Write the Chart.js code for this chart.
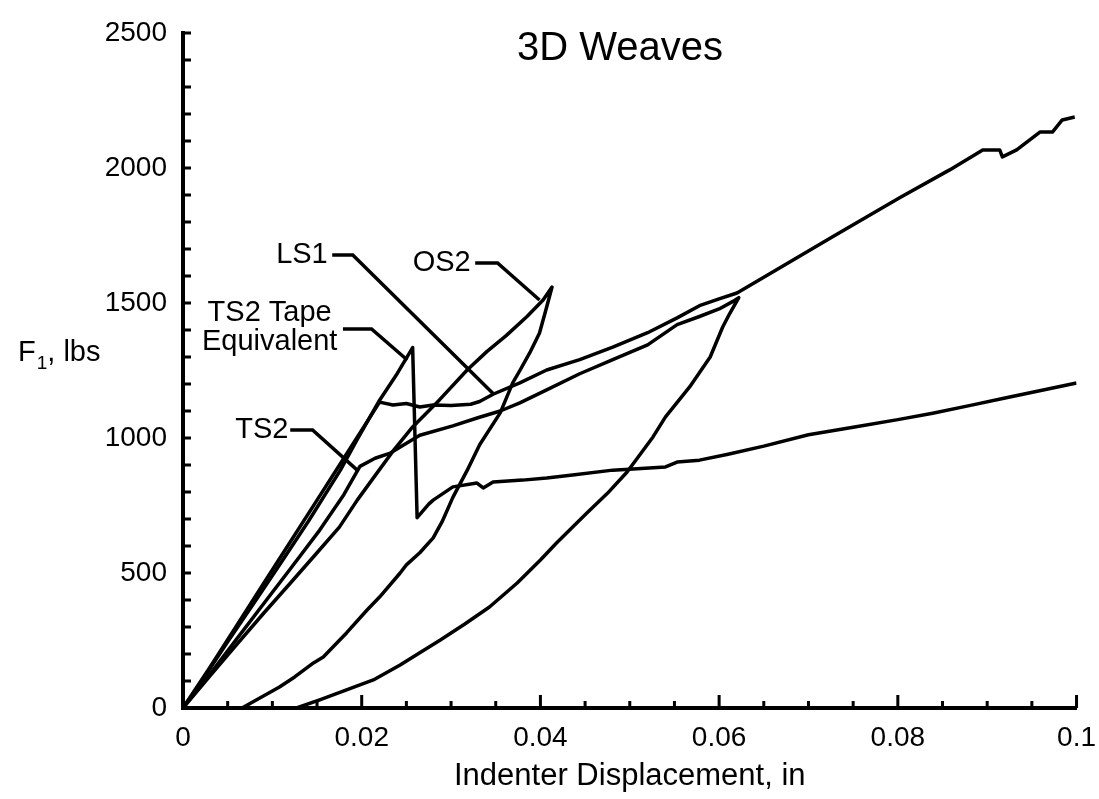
<!DOCTYPE html>
<html>
<head>
<meta charset="utf-8">
<title>3D Weaves</title>
<script src="https://cdn.jsdelivr.net/npm/chart.js@4.4.1/dist/chart.umd.min.js"></script>
<style>
  body { margin: 0; background: #fff; }
  .wrap { position: relative; width: 1099px; height: 799px; }
</style>
</head>
<body>
<div class="wrap"><canvas id="chart"></canvas></div>
<script>
// indenter displacement (in), F1 (lbs)
const ts2Tape = [
  [0, 0], [0.002, 95], [0.005, 245], [0.008, 392], [0.011, 540], [0.014, 690],
  [0.0176, 880], [0.0195, 995], [0.022, 1140], [0.024, 1240], [0.0257, 1335],
  [0.0262, 705], [0.0275, 755], [0.028, 770], [0.0302, 819], [0.0329, 833],
  [0.0336, 815], [0.0347, 837], [0.038, 844], [0.0407, 852], [0.0436, 863],
  [0.0481, 881], [0.054, 893], [0.0553, 911], [0.0578, 918], [0.061, 940],
  [0.065, 970], [0.07, 1012], [0.075, 1040], [0.08, 1068], [0.0839, 1092],
  [0.088, 1120], [0.092, 1148], [0.096, 1176], [0.1, 1204]
];
const ls1 = [
  [0, 0], [0.003, 150], [0.006, 305], [0.009, 460], [0.012, 615], [0.015, 770],
  [0.018, 925], [0.0205, 1055], [0.022, 1133], [0.0235, 1122], [0.025, 1128],
  [0.0265, 1115], [0.028, 1122], [0.03, 1120], [0.0322, 1125], [0.0332, 1135],
  [0.0347, 1162], [0.0377, 1204], [0.0407, 1252], [0.0444, 1290], [0.0481, 1337],
  [0.052, 1390], [0.0553, 1445], [0.0578, 1490], [0.06, 1515], [0.062, 1537],
  [0.066, 1615], [0.0727, 1745], [0.0802, 1890], [0.0858, 1993], [0.0895, 2067],
  [0.0914, 2067], [0.0917, 2041], [0.0933, 2067], [0.0959, 2133], [0.0973, 2133],
  [0.0984, 2178], [0.0998, 2189]
];
const ts2 = [
  [0, 0], [0.003, 125], [0.006, 255], [0.009, 385], [0.012, 515], [0.0153, 659],
  [0.018, 790], [0.0198, 895], [0.0215, 925], [0.0232, 944], [0.0265, 1010],
  [0.0302, 1045], [0.033, 1075], [0.0355, 1100], [0.0377, 1130], [0.0407, 1178],
  [0.0444, 1238], [0.0481, 1290], [0.052, 1345], [0.0553, 1420], [0.0578, 1450],
  [0.06, 1478], [0.0615, 1505], [0.0622, 1520], [0.0612, 1462], [0.0604, 1411],
  [0.059, 1300], [0.0567, 1189], [0.054, 1078], [0.0526, 1004], [0.0497, 874],
  [0.0475, 795], [0.0452, 722], [0.0418, 611], [0.04, 548], [0.0374, 463],
  [0.0343, 374], [0.0315, 310], [0.0288, 252], [0.0265, 205], [0.0243, 159],
  [0.0213, 104], [0.0183, 67], [0.0153, 30], [0.0127, 0]
];
const os2 = [
  [0, 0], [0.003, 118], [0.006, 235], [0.009, 350], [0.012, 462], [0.015, 575],
  [0.0175, 670], [0.0195, 770], [0.0217, 870], [0.0237, 960], [0.0257, 1041],
  [0.0287, 1141], [0.0318, 1252], [0.034, 1320], [0.0362, 1380], [0.0385, 1450],
  [0.0403, 1511], [0.0413, 1559], [0.0407, 1485], [0.0399, 1389], [0.0388, 1315],
  [0.0377, 1250], [0.0369, 1204], [0.0355, 1093], [0.0332, 975], [0.0318, 880],
  [0.0302, 780], [0.029, 690], [0.028, 630], [0.0265, 575], [0.025, 530],
  [0.0243, 500], [0.022, 411], [0.0206, 363], [0.0183, 278], [0.0157, 189],
  [0.0146, 167], [0.0125, 115], [0.0108, 78], [0.0085, 35], [0.0066, 0]
];

const seriesNames = ['TS2 Tape Equivalent', 'LS1', 'TS2', 'OS2'];
const xTickLabels = ['0', '0.02', '0.04', '0.06', '0.08', '0.1'];
const yTickLabels = ['0', '500', '1000', '1500', '2000', '2500'];

// curve labels with their leader lines, in data units
const callouts = [
  { align: 'right', text: [['LS1', 0.0162, 1678]], path: [[0.0167, 1678], [0.019, 1678], [0.0347, 1165]] },
  { align: 'right', text: [['OS2', 0.0322, 1648]], path: [[0.0327, 1648], [0.0352, 1648], [0.0399, 1511]] },
  { align: 'center', text: [['TS2 Tape', 0.0097, 1463], ['Equivalent', 0.0097, 1354]],
    path: [[0.0179, 1404], [0.0211, 1404], [0.0251, 1289]] },
  { align: 'right', text: [['TS2', 0.0118, 1030]], path: [[0.012, 1030], [0.0145, 1030], [0.0195, 881]] }
];

const FONT = '"Liberation Sans", Arial, Helvetica, sans-serif';
Chart.defaults.font.family = FONT;
Chart.defaults.color = '#000';

// Chart.js has no inward minor ticks, so draw them here
const innerTicks = {
  id: 'innerTicks',
  afterDraw(chart) {
    const { ctx, chartArea: a, scales: { x, y } } = chart;
    ctx.save();
    ctx.strokeStyle = '#000';
    ctx.lineWidth = 3;
    ctx.beginPath();
    for (let i = 0; i <= 20; i++) {
      const px = x.getPixelForValue(i * 0.005);
      ctx.moveTo(px, a.bottom);
      ctx.lineTo(px, a.bottom - (i % 4 === 0 ? 13 : 7));
    }
    for (let i = 0; i <= 25; i++) {
      const py = y.getPixelForValue(i * 100);
      ctx.moveTo(a.left, py);
      ctx.lineTo(a.left + 8, py);
    }
    ctx.stroke();
    ctx.restore();
  }
};

const labels = {
  id: 'labels',
  afterDatasetsDraw(chart) {
    const { ctx, chartArea: a, scales: { x, y } } = chart;
    ctx.save();
    ctx.fillStyle = '#000';
    ctx.strokeStyle = '#000';
    ctx.lineWidth = 3.5;
    ctx.textBaseline = 'middle';
    ctx.font = '29px ' + FONT;
    for (const c of callouts) {
      ctx.beginPath();
      c.path.forEach(([vx, vy], i) => {
        const px = x.getPixelForValue(vx);
        const py = y.getPixelForValue(vy);
        if (i === 0) ctx.moveTo(px, py);
        else ctx.lineTo(px, py);
      });
      ctx.stroke();
      ctx.textAlign = c.align;
      for (const [s, vx, vy] of c.text) {
        ctx.fillText(s, x.getPixelForValue(vx), y.getPixelForValue(vy));
      }
    }

    // title sits inside the plot area
    ctx.textAlign = 'center';
    ctx.font = '40px ' + FONT;
    ctx.fillText('3D Weaves', a.left + (a.right - a.left) * 0.489, a.top + 16);

    // horizontal y axis title with subscript
    ctx.textAlign = 'left';
    ctx.textBaseline = 'alphabetic';
    const base = y.getPixelForValue(1285);
    let tx = 18;
    ctx.font = '29px ' + FONT;
    ctx.fillText('F', tx, base);
    tx += ctx.measureText('F').width + 1;
    ctx.font = '19px ' + FONT;
    ctx.fillText('1', tx, base + 8);
    tx += ctx.measureText('1').width;
    ctx.font = '29px ' + FONT;
    ctx.fillText(', lbs', tx, base);
    ctx.restore();
  }
};

new Chart(document.getElementById('chart'), {
  type: 'scatter',
  data: {
    datasets: [ts2Tape, ls1, ts2, os2].map((pts, i) => ({
      label: seriesNames[i],
      data: pts.map(([x, y]) => ({ x, y })),
      showLine: true,
      borderColor: '#000',
      borderWidth: 3.5,
      borderJoinStyle: 'round',
      pointRadius: 0,
      fill: false
    }))
  },
  options: {
    responsive: true,
    maintainAspectRatio: false,
    animation: false,
    layout: { padding: { top: 33, right: 12, left: 0, bottom: 0 } },
    plugins: { legend: { display: false }, tooltip: { enabled: false } },
    scales: {
      x: {
        type: 'linear',
        min: 0,
        max: 0.1,
        // grid hidden, tick length only used as label offset
        grid: { display: false, drawTicks: true, tickLength: 10 },
        border: { color: '#000', width: 4 },
        ticks: {
          stepSize: 0.02,
          padding: 3,
          font: { size: 28 },
          maxRotation: 0,
          callback: (v, i) => xTickLabels[i]
        },
        title: {
          display: true,
          text: 'Indenter Displacement, in',
          font: { size: 31 },
          padding: { top: 0, bottom: 4 }
        },
        afterFit: s => { s.height = 91; }
      },
      y: {
        min: 0,
        max: 2500,
        grid: { display: false, drawTicks: false },
        border: { color: '#000', width: 4 },
        ticks: {
          stepSize: 500,
          padding: 16,
          font: { size: 28 },
          callback: (v, i) => yTickLabels[i]
        },
        afterFit: s => { s.width = 183; }
      }
    }
  },
  plugins: [innerTicks, labels]
});
</script>
</body>
</html>
